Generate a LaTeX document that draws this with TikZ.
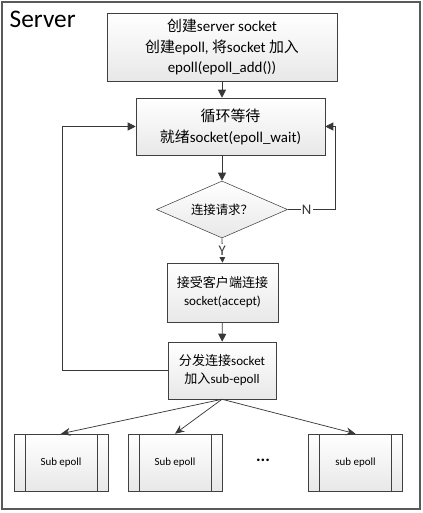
\documentclass[tikz,border=0pt]{standalone}
\usepackage{fontspec}
\setmainfont{Carlito}
\newfontfamily\cjk{Noto Sans CJK SC}
\usetikzlibrary{arrows.meta}
\usetikzlibrary{shapes.geometric,positioning,shadows}

\tikzset{
  schritt/.style={rectangle,draw=black!75,thin,top color=white,bottom color=black!9,
    align=center,inner sep=2pt,
    drop shadow={shadow xshift=1pt,shadow yshift=-1pt,opacity=0.2}},
  entscheidung/.style={diamond,draw=black!75,thin,top color=white,bottom color=black!9,
    aspect=2.3,inner sep=0pt,minimum width=98.25pt,minimum height=42.75pt,
    font=\fontsize{9.3}{11}\selectfont},
  subprozess/.style={rectangle,draw=black!75,thin,top color=white,bottom color=black!9,
    minimum width=70.5pt,minimum height=42.75pt,font=\fontsize{8.2}{10}\selectfont,
    path picture={
      \draw[black!75] ([xshift=8.25pt]path picture bounding box.north west)
        -- ([xshift=8.25pt]path picture bounding box.south west);
      \draw[black!75] ([xshift=-8.25pt]path picture bounding box.north east)
        -- ([xshift=-8.25pt]path picture bounding box.south east);
    }},
  marke/.style={fill=white,inner sep=1pt,font=\fontsize{11}{12}\selectfont},
}

\begin{document}
\begin{tikzpicture}[x=0.75pt,y=-0.75pt]
  \useasboundingbox (0,0) rectangle (423,513);
  \draw[black!65,line width=0.8pt] (2,2) rectangle (420,509);
  \node[anchor=west,font=\fontsize{19}{22}\selectfont] (titel) at (5,19) {Server};

  \begin{scope}[every node/.style={schritt}]
    \node[minimum width=172.5pt,minimum height=51pt,font=\fontsize{11.2}{15.7}\selectfont]
      (erstellen) at (222,47)
      {{\cjk 创建}server socket\\{\cjk 创建}epoll, {\cjk 将}socket {\cjk 加入}\\epoll(epoll\_add())};
    \node[minimum width=141.75pt,minimum height=42.75pt,font=\fontsize{11.2}{15.7}\selectfont]
      (warten) at (230.5,126.5)
      {{\cjk 循环等待}\\{\cjk 就绪}socket(epoll\_wait)};
    \node[minimum width=83.25pt,minimum height=44.25pt,font=\fontsize{9.8}{13.5}\selectfont]
      (annehmen) at (222.5,292.5)
      {{\cjk 接受客户端连接}\\socket(accept)};
    \node[minimum width=81pt,minimum height=42.75pt,font=\fontsize{9.8}{13.5}\selectfont]
      (verteilen) at (222,370.5)
      {{\cjk 分发连接}socket\\{\cjk 加入}sub-epoll};
  \end{scope}

  \node[entscheidung] (anfrage) at (222,209.5) {{\cjk 连接请求？}};

  \node[subprozess] (subeins) at (61,462.5) {Sub epoll};
  \node[subprozess] (subzwei) at (175,462.5) {Sub epoll};
  \node[subprozess] (subdrei) at (355.5,462.5) {sub epoll};
  \node[font=\fontsize{13}{14}\selectfont\bfseries] (punkte) at (263,460) {...};

  \coordinate (rechts) at (335,209.5);
  \coordinate (links) at (62,370.5);

  \begin{scope}[>={Triangle[length=6pt,width=6pt]},black!78,line width=0.6pt]
    \path (erstellen.south) edge[->] (erstellen.south |- warten.north);
    \path (warten.south -| anfrage.north) edge[->] (anfrage.north);
    \path (anfrage.south) edge[->] node[marke] {Y} (annehmen.north);
    \path (annehmen) edge[->] (verteilen);
    \draw[->] (anfrage.east) -- node[marke,pos=0.4] {N} (rechts) |- (warten.east);
    \draw[->] (verteilen.west) -- (links) |- (warten.west);
  \end{scope}

  \begin{scope}[>={Stealth[length=7pt,width=6pt]},black!78,line width=0.55pt]
    \path (verteilen.south) edge[->] (subeins.north);
    \path (verteilen.south) edge[->] (subzwei.north);
    \path (verteilen.south) edge[->] (subdrei.north);
  \end{scope}
\end{tikzpicture}
\end{document}
